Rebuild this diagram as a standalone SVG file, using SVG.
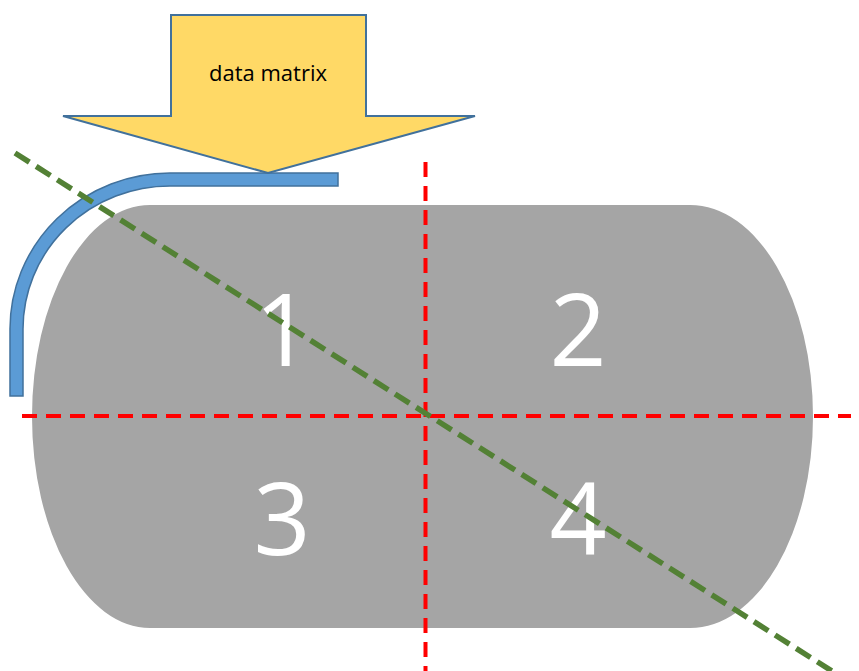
<svg xmlns="http://www.w3.org/2000/svg" width="859" height="671" viewBox="0 0 859 671">
  <style>
    .num { font-family: "Open Sans", "Liberation Sans", sans-serif; font-size: 100px; fill: #FFFFFF; text-anchor: middle; }
    .lbl { font-family: "Open Sans", "Liberation Sans", sans-serif; font-size: 22px; fill: #000000; text-anchor: middle; }
    .red { stroke: #FF0000; stroke-width: 4; stroke-dasharray: 15 9; fill: none; }
    .green { stroke: #538135; stroke-width: 5.5; stroke-dasharray: 17 8; fill: none; }
  </style>
  <rect width="859" height="671" fill="#FFFFFF"/>
  <g id="body">
    <path d="M150,205 H690 A123,211.5 0 0 1 813,416.5 A123,211.5 0 0 1 690,628 H150 A118,211.5 0 0 1 32,416.5 A118,211.5 0 0 1 150,205 Z" fill="#A5A5A5"/>
    <text class="num" x="283" y="366">1</text>
    <text class="num" x="578" y="366">2</text>
    <text class="num" x="282" y="555">3</text>
    <text class="num" x="578" y="555">4</text>
  </g>
  <g id="bracket">
    <path d="M338,173 H170 A160,156 0 0 0 10,329 V396 H23 V329 A147,143 0 0 1 170,186 H338 Z" fill="#5B9BD5" stroke="#41719C" stroke-width="1.5"/>
  </g>
  <g id="arrow">
    <polygon points="171,15 366,15 366,116 475,116 268,173 63,116 171,116" fill="#FFD966" stroke="#41719C" stroke-width="2"/>
    <text class="lbl" x="268" y="81">data matrix</text>
  </g>
  <g id="connectors">
    <line class="red" x1="22" y1="416" x2="851" y2="416"/>
    <line class="red" x1="425.5" y1="162" x2="425.5" y2="671"/>
    <line class="green" x1="15" y1="153" x2="835" y2="673"/>
  </g>
</svg>
